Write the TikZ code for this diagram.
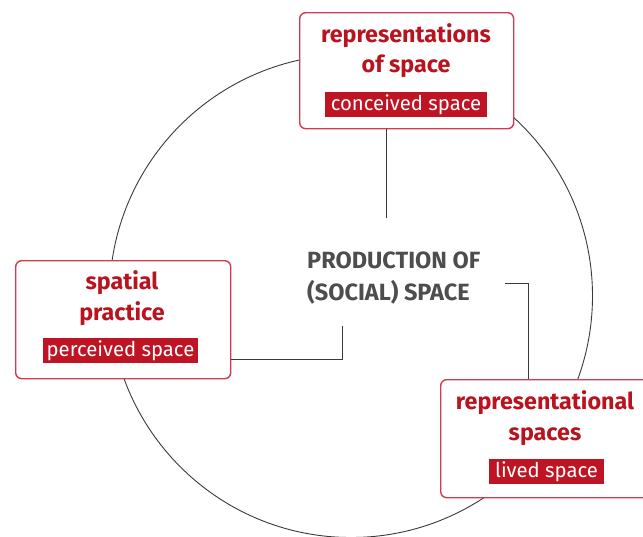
\documentclass[tikz,border=0pt]{standalone}
\usepackage{fontspec}
\setmainfont{Fira Sans}
\definecolor{boxred}{HTML}{D23A4E}
\definecolor{titlered}{HTML}{B8131F}
\definecolor{tagred}{HTML}{BF1424}
\definecolor{midgray}{HTML}{4D4D4D}
\definecolor{ringgray}{HTML}{3A3A3A}
\begin{document}
\begin{tikzpicture}[x=1pt,y=-1pt,
  panel/.style={draw=boxred, line width=1.4pt, rounded corners=6pt, fill=white,
    inner sep=0pt, anchor=north west},
  title/.style={text=titlered, font=\fontsize{23.3}{30}\selectfont\bfseries, anchor=base},
  tag/.style={fill=tagred, text=white, font=\fontsize{20.3}{20}\selectfont,
    inner sep=0pt, minimum height=25pt, anchor=center},
  centre/.style={text=midgray, font=\fontsize{23.5}{32}\selectfont\bfseries,
    anchor=base west, inner sep=0pt},
  link/.style={draw=ringgray, line width=0.9pt}]
\useasboundingbox (0,0) rectangle (643,536);

% the ring behind the three panels
\draw[ringgray, line width=0.9pt] (351,296) circle[radius=241.5pt];

% panels
\node[panel, minimum width=214pt, minimum height=116pt] (top) at (299,12) {};
\node[panel, minimum width=215pt, minimum height=118pt] (left) at (15,260) {};
\node[panel, minimum width=210pt, minimum height=118pt] (right) at (440,379) {};

% panel titles
\node[title] (topA) at (406,42) {representations};
\node[title] (topB) at (406,72) {of space};
\node[title] (leftA) at (122,289) {spatial};
\node[title] (leftB) at (122,320) {practice};
\node[title] (rightA) at (545,409) {representational};
\node[title] (rightB) at (545,440) {spaces};

% tags
\node[tag, minimum width=162pt] (topT) at (406,104.5) {conceived space};
\node[tag, minimum width=155pt] (leftT) at (120.5,350.5) {perceived space};
\node[tag, minimum width=115pt] (rightT) at (546.5,471.5) {lived space};

% centre label
\node[centre] (midA) at (307,268) {PRODUCTION OF};
\node[centre] (midB) at (307,300) {(SOCIAL) SPACE};

% connectors
\coordinate (topend) at (386,218);
\draw[link] (topend |- top.south) -- (topend);

\coordinate (lbend) at (342,326);
\draw[link] (lbend) -- (lbend |- 0,359) -- (left.east |- 0,359);

\coordinate (rbstart) at (505,283);
\coordinate (rbcorner) at (528,283);
\draw[link] (rbstart) -- (rbcorner) -- (rbcorner |- right.north);
\end{tikzpicture}
\end{document}
